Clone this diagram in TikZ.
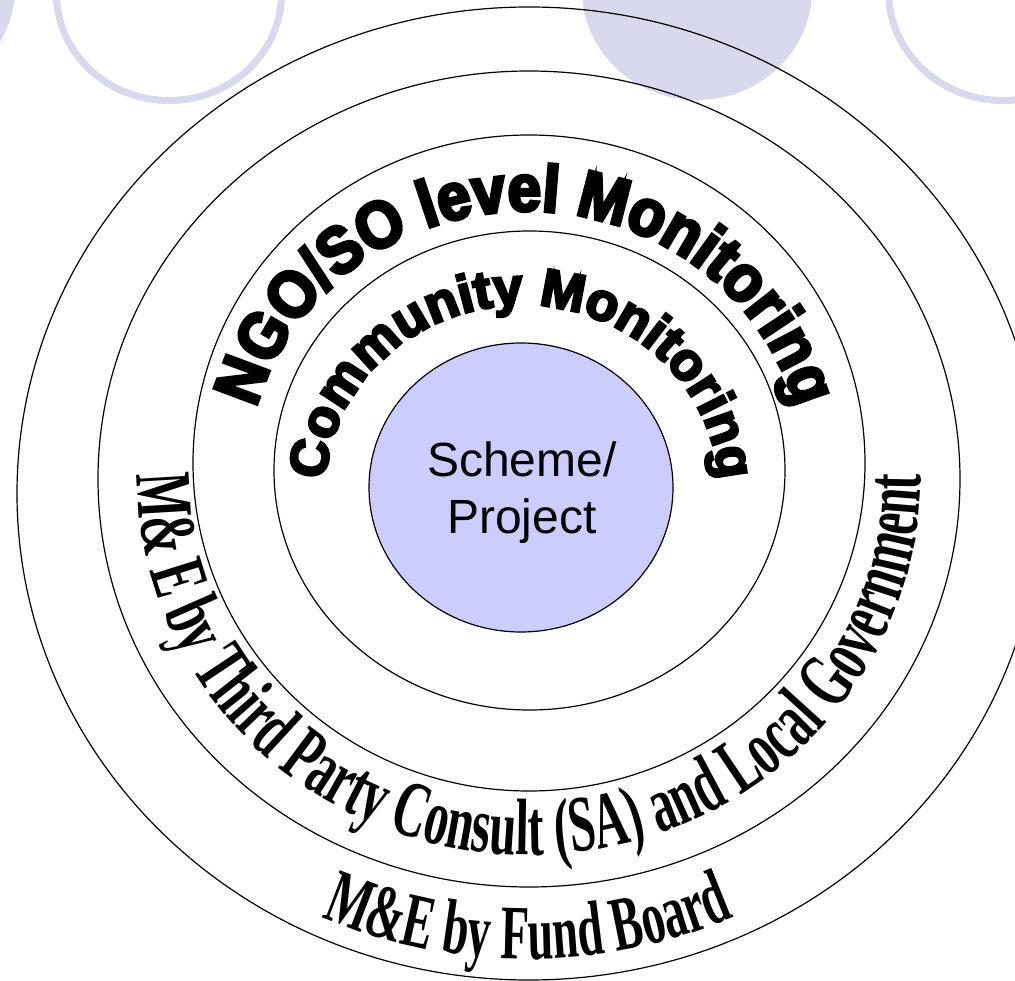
\documentclass[tikz,border=0pt]{standalone}
\usepackage{fontspec}
\setmainfont{Liberation Serif}
\newfontfamily\arialfont{Liberation Sans}
\newfontfamily\blackfont{Liberation Sans Bold}[FakeBold=5]
\newfontfamily\blacknarrow{Liberation Sans Bold}[FakeBold=5, FakeStretch=0.91]
\newfontfamily\condfont{Liberation Serif Bold}[FakeStretch=0.6]
\usetikzlibrary{decorations.text}
\definecolor{deco}{RGB}{217,217,237}
\definecolor{core}{RGB}{204,204,255}
\tikzset{
  ring/.style={draw=black, line width=1.2pt},
  decoring/.style={draw=deco, line width=7pt},
  decofill/.style={fill=deco},
  centertext/.style={anchor=base, font=\arialfont\fontsize{48}{57}\selectfont, inner sep=0pt}
}
\begin{document}
\begin{tikzpicture}[x=1pt,y=1pt]
\useasboundingbox (0,0) rectangle (1015,-981);
\clip (0,0) rectangle (1015,-981);
% decorative background circles
\path[decofill] (-101,12) ellipse [x radius=116pt, y radius=110pt];
\path[decoring] (169,6.5) ellipse [x radius=112.5pt, y radius=107pt];
\path[decofill] (697,10) ellipse [x radius=115pt, y radius=110pt];
\path[decoring] (1003,8.5) ellipse [x radius=114.5pt, y radius=109pt];
% rings
\path[ring] (529,-493.5) ellipse [x radius=512pt, y radius=486.5pt];
\path[ring] (529,-479) ellipse [x radius=431pt, y radius=408pt];
\path[ring] (529,-463) ellipse [x radius=336pt, y radius=328pt];
\path[ring] (529.5,-470.5) ellipse [x radius=255.5pt, y radius=239.5pt];
\path[ring, fill=core] (521,-487.5) ellipse [x radius=152pt, y radius=144.5pt];
% centre text
\node[centertext] (scheme) at (522,-476) {Scheme/};
\node[centertext] (project) at (522,-533) {Project};
% curved texts
\path[decorate, decoration={text along path, text align=center,
  text={|\blacknarrow\fontsize{66}{66}\selectfont|NGO/SO level Monitoring}}]
  (526,-476) ++(200:279pt and 265pt) arc[start angle=200, end angle=-20, x radius=279pt, y radius=265pt];
\path[decorate, decoration={text along path, text align=center,
  text={|\blackfont\fontsize{53}{53}\selectfont|Community Monitoring}}]
  (522,-492) ++(200:197pt and 187pt) arc[start angle=200, end angle=-20, x radius=197pt, y radius=187pt];
\path[decorate, decoration={text along path, text align=center,
  text={|\condfont\fontsize{80}{80}\selectfont|M{\&} E by Third Party Consult (SA) and Local Government}}]
  (529,-475) ++(150:392pt and 380pt) arc[start angle=150, end angle=390, x radius=392pt, y radius=380pt];
\path[decorate, decoration={text along path, text align=center,
  text={|\condfont\fontsize{77}{77}\selectfont|M{\&}E by Fund Board}}]
  (528,-485) ++(200:500pt and 474pt) arc[start angle=200, end angle=340, x radius=500pt, y radius=474pt];
\end{tikzpicture}
\end{document}
